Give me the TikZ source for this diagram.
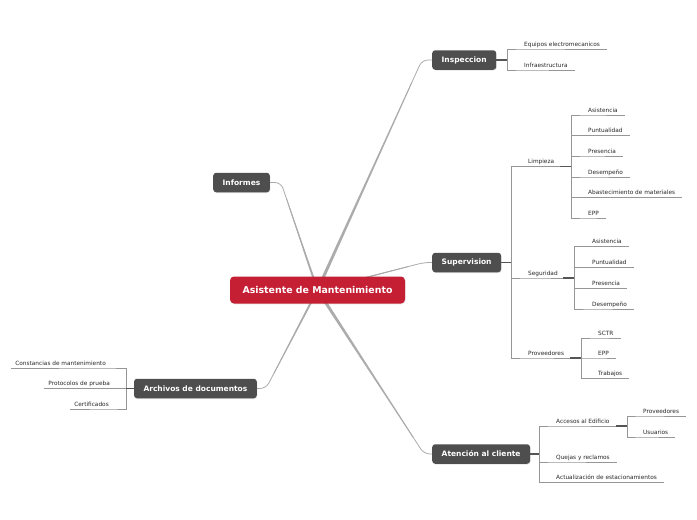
\documentclass[tikz,border=0pt]{standalone}
\usepackage{fontspec}
\setmainfont{DejaVu Sans}
\usetikzlibrary{calc,shadows}
\definecolor{mmred}{RGB}{197,31,52}
\definecolor{mmdark}{RGB}{78,78,78}
\definecolor{mmline}{RGB}{150,150,150}
\definecolor{mmbranch}{RGB}{172,172,172}
\definecolor{mmstub}{RGB}{85,85,85}
\definecolor{mmtext}{RGB}{40,40,40}
\pgfdeclarelayer{bg}
\pgfdeclarelayer{canvasbg}
\pgfsetlayers{canvasbg,bg,main}
\newcommand{\mmtaper}[4]{%
  \fill[mmbranch] ($(#1)!#3!90:(#2)$) -- ($(#2)!#4!-90:(#1)$) -- ($(#2)!#4!90:(#1)$) -- ($(#1)!#3!-90:(#2)$) -- cycle;}
\tikzset{
  hubbox/.style={rounded corners=4pt, fill=mmred, text=white, font=\bfseries\fontsize{9.4}{11}\selectfont, minimum width=175pt, minimum height=27pt, inner sep=0pt, drop shadow={opacity=0.2, shadow xshift=0.6pt, shadow yshift=-0.8pt}},
  mainbox/.style={rounded corners=3pt, fill=mmdark, text=white, font=\bfseries\fontsize{7.5}{9}\selectfont, inner xsep=9.5pt, inner ysep=0pt, minimum height=19.5pt, drop shadow={opacity=0.2, shadow xshift=0.6pt, shadow yshift=-0.8pt}},
  leaf/.style={font=\fontsize{5.8}{7}\selectfont, text=mmtext, inner xsep=0pt, inner ysep=1.5pt, text depth=1.2pt, text height=4.4pt},
  uline/.style={draw=mmline, line width=0.6pt},
  stub/.style={draw=mmstub, line width=1.3pt},
  branch/.style={draw=mmbranch, line width=0.8pt}
}
\begin{document}
\begin{tikzpicture}[x=1pt,y=-1pt]
\begin{pgfonlayer}{canvasbg}
\fill[white] (0,0) rectangle (697,520);
\end{pgfonlayer}
\useasboundingbox (0,0) rectangle (697,520);

% main nodes
\node[hubbox] (hub) at (317.5,290) {Asistente de Mantenimiento};
\node[mainbox, anchor=west] (insp) at (432,60) {Inspeccion};
\node[mainbox, anchor=west] (sup) at (432,262.5) {Supervision};
\node[mainbox, anchor=west] (aten) at (432,454) {Atención al cliente};
\node[mainbox, anchor=west] (inf) at (213,182.5) {Informes};
\node[mainbox, anchor=east] (arch) at (257,388.5) {Archivos de documentos};

% junctions
\coordinate (jI) at (507,60);
\coordinate (jS) at (511,262.5);
\coordinate (jA) at (539,454);
\coordinate (jR) at (126,388.5);
\coordinate (jL) at (571,166.5);
\coordinate (jG) at (574,278);
\coordinate (jP) at (581,358);
\coordinate (jC) at (627,426);

% Inspeccion leaves
\node[leaf, anchor=south west] (i1) at (524,49) {Equipos electromecanicos};
\node[leaf, anchor=south west] (i2) at (524,70) {Infraestructura};

% Supervision sub-branches
\node[leaf, anchor=south west] (limp) at (528,166.5) {Limpieza};
\node[leaf, anchor=south west] (seg) at (528,278) {Seguridad};
\node[leaf, anchor=south west] (prov) at (528,358) {Proveedores};

\node[leaf, anchor=south west] (l1) at (588,115) {Asistencia};
\node[leaf, anchor=south west] (l2) at (588,135.5) {Puntualidad};
\node[leaf, anchor=south west] (l3) at (588,156) {Presencia};
\node[leaf, anchor=south west] (l4) at (588,177) {Desempeño};
\node[leaf, anchor=south west] (l5) at (588,197.5) {Abastecimiento de materiales};
\node[leaf, anchor=south west] (l6) at (588,218) {EPP};

\node[leaf, anchor=south west] (g1) at (592,246.5) {Asistencia};
\node[leaf, anchor=south west] (g2) at (592,267.5) {Puntualidad};
\node[leaf, anchor=south west] (g3) at (592,288.5) {Presencia};
\node[leaf, anchor=south west] (g4) at (592,309) {Desempeño};

\node[leaf, anchor=south west] (p1) at (598,338) {SCTR};
\node[leaf, anchor=south west] (p2) at (598,358) {EPP};
\node[leaf, anchor=south west] (p3) at (598,378.5) {Trabajos};

% Atencion
\node[leaf, anchor=south west] (acc) at (556,426) {Accesos al Edificio};
\node[leaf, anchor=south west] (a2) at (556,462) {Quejas y reclamos};
\node[leaf, anchor=south west] (a3) at (556,482.5) {Actualización de estacionamientos};
\node[leaf, anchor=south west] (c1) at (643,416) {Proveedores};
\node[leaf, anchor=south west] (c2) at (643,437) {Usuarios};

% Archivos
\node[leaf, anchor=south east] (r1) at (106,368) {Constancias de mantenimiento};
\node[leaf, anchor=south east] (r2) at (110,388.5) {Protocolos de prueba};
\node[leaf, anchor=south east] (r3) at (109,409) {Certificados};

\begin{pgfonlayer}{bg}
% main branches
\coordinate (kI) at (422,60);
\coordinate (kF) at (281,182.5);
\coordinate (kS) at (424,262.5);
\coordinate (kR) at (266,388.5);
\coordinate (kA) at (424,454);
\coordinate (tI) at ($(hub.center)!0.9!(kI)$);
\coordinate (tF) at ($(hub.center)!0.85!(kF)$);
\coordinate (tS) at ($(hub.center)!0.85!(kS)$);
\coordinate (tR) at ($(hub.center)!0.85!(kR)$);
\coordinate (tA) at ($(hub.center)!0.9!(kA)$);
\mmtaper{hub.center}{tI}{1.6pt}{0.4pt}
\mmtaper{hub.center}{tF}{1.1pt}{0.4pt}
\mmtaper{hub.center}{tS}{0.8pt}{0.4pt}
\mmtaper{hub.center}{tR}{1.1pt}{0.4pt}
\mmtaper{hub.center}{tA}{1.6pt}{0.4pt}
\draw[branch, rounded corners=6pt] (hub.center) -- (kI) -- (insp.west);
\draw[branch, rounded corners=6pt] (hub.center) -- (kF) -- (inf.east);
\draw[branch, rounded corners=6pt] (hub.center) -- (kS) -- (sup.west);
\draw[branch, rounded corners=6pt] (hub.center) -- (kR) -- (arch.east);
\draw[branch, rounded corners=6pt] (hub.center) -- (kA) -- (aten.west);
\end{pgfonlayer}

% Inspeccion connectors
\foreach \n in {i1,i2} \draw[uline] (jI) |- (\n.south west) -- ([xshift=7pt]\n.south east);
\draw[stub] (insp.east) -- (jI);

% Supervision connectors
\foreach \n/\j in {limp/jL,seg/jG,prov/jP} \draw[uline] (jS) |- (\n.south west) -- (\j);
\draw[stub] (sup.east) -- (jS);
\foreach \n in {l1,l2,l3,l4,l5,l6} \draw[uline] (jL) |- (\n.south west) -- ([xshift=7pt]\n.south east);
\foreach \n in {g1,g2,g3,g4} \draw[uline] (jG) |- (\n.south west) -- ([xshift=7pt]\n.south east);
\foreach \n in {p1,p2,p3} \draw[uline] (jP) |- (\n.south west) -- ([xshift=7pt]\n.south east);
\foreach \j in {jL,jG,jP} \draw[stub] ([xshift=-11pt]\j) -- (\j);

% Atencion connectors
\draw[uline] (jA) |- (acc.south west) -- (jC);
\foreach \n in {a2,a3} \draw[uline] (jA) |- (\n.south west) -- ([xshift=7pt]\n.south east);
\foreach \n in {c1,c2} \draw[uline] (jC) |- (\n.south west) -- ([xshift=7pt]\n.south east);
\draw[stub] (aten.east) -- (jA);
\draw[stub] ([xshift=-11pt]jC) -- (jC);

% Archivos connectors
\foreach \n in {r1,r2,r3} \draw[uline] (jR) |- (\n.south east) -- ([xshift=-4pt]\n.south west);
\draw[stub] (arch.west) -- (jR);
\end{tikzpicture}
\end{document}
